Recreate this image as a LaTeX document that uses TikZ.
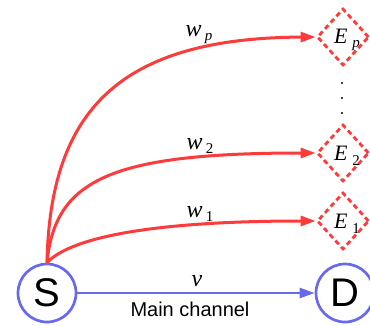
\documentclass[tikz,border=0pt]{standalone}
\usepackage{fontspec}
\setmainfont{Liberation Sans}
\newfontfamily\serifrm{Liberation Serif}
\usetikzlibrary{arrows.meta,shapes.geometric}
\definecolor{myred}{RGB}{255,58,58}
\definecolor{myblue}{RGB}{105,105,240}
\newcommand\lbl[5]{{\serifrm\fontsize{#3}{#3}\selectfont\itshape #1}\hspace{#5}\raisebox{#4}{\serifrm\fontsize{15}{15}\selectfont #2}}
\begin{document}
\begin{tikzpicture}[x=1pt,y=-1pt,
  circ/.style={circle,draw=myblue,line width=2.7pt,minimum size=58pt,inner sep=0pt,font=\fontsize{40}{40}\selectfont},
  dia/.style={diamond,draw=myred,line width=2.8pt,dash pattern=on 5pt off 3.5pt,minimum width=52pt,minimum height=57pt,inner sep=0pt},
  redline/.style={draw=myred,line width=3pt,-{Triangle[length=15pt,width=10pt]}},
  blueline/.style={draw=myblue,line width=2.5pt,-{Triangle[length=15pt,width=10pt]}},
  wlab/.style={inner sep=0pt},
  dotn/.style={circle,fill=black,inner sep=0pt,minimum size=2.2pt}]
\useasboundingbox (0,0) rectangle (370,325);
\clip (0,0) rectangle (370,325);
\node[circ] (S) at (47,293) {S};
\node[circ] (D) at (345,293) {D};
\node[dia] (Ep) at (343,37) {};
\node[dia] (E2) at (343,153) {};
\node[dia] (E1) at (343,221) {};
\node[wlab] (tEp) at (347,40) {\lbl{E}{\textit{p}}{22}{-0.45em}{5pt}};
\node[wlab] (tE2) at (347,156) {\lbl{E}{2}{22}{-0.45em}{5pt}};
\node[wlab] (tE1) at (347,224) {\lbl{E}{1}{22}{-0.45em}{5pt}};
\node[dotn] (d1) at (342,83) {};
\node[dotn] (d2) at (342,98) {};
\node[dotn] (d3) at (342,113) {};
\draw[redline] (S.north) .. controls (50,110) and (120,38) .. (Ep.west);
\draw[redline] (S.north) .. controls (55,180) and (110,153) .. (E2.west);
\draw[redline] (S.north) .. controls (70,238) and (150,221) .. (E1.west);
\node[wlab] (wp) at (199,35) {\lbl{w}{\textit{p}}{24}{-0.4em}{3pt}};
\node[wlab] (w2) at (200,146) {\lbl{w}{2}{24}{-0.4em}{3pt}};
\node[wlab] (w1) at (200,214) {\lbl{w}{1}{24}{-0.4em}{3pt}};
\draw[blueline] (S) -- (D);
\node[wlab] (v) at (197,281) {{\serifrm\itshape\fontsize{24}{24}\selectfont v}};
\node[wlab] (mc) at (190,309) {\fontsize{20}{20}\selectfont Main channel};
\end{tikzpicture}
\end{document}
